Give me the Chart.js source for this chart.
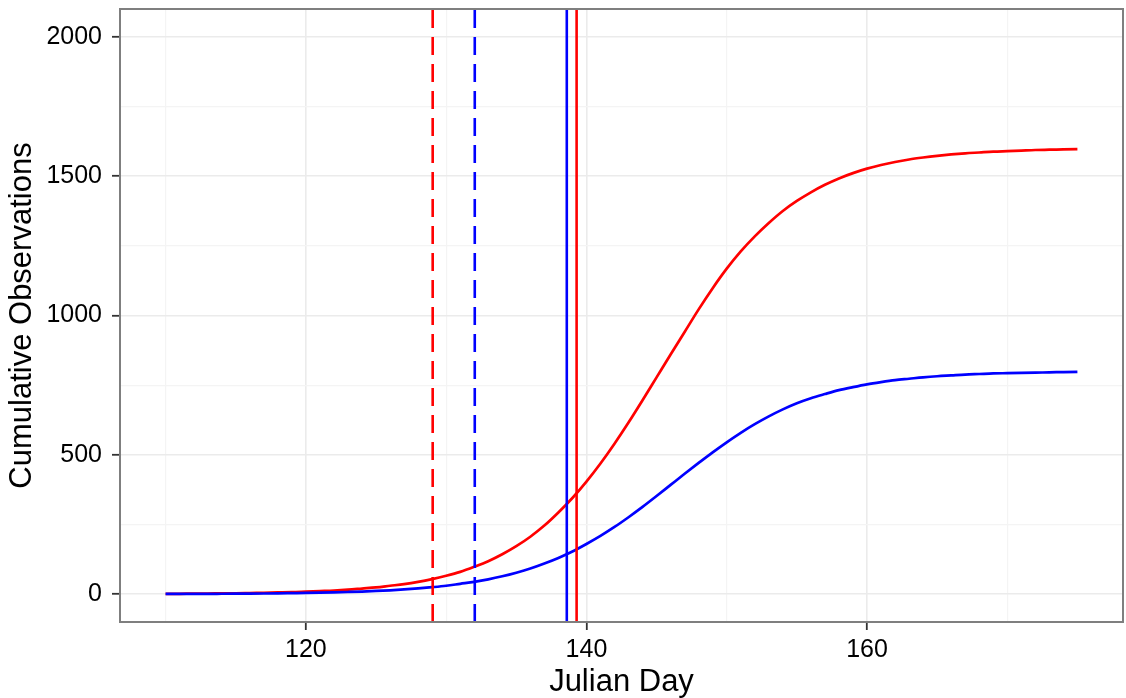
<!DOCTYPE html>
<html>
<head>
<meta charset="utf-8">
<script src="https://cdn.jsdelivr.net/npm/chart.js@4"></script>
<style>
  html, body { margin: 0; padding: 0; background: #fff; }
  #wrap { width: 1126px; height: 698px; }
</style>
</head>
<body>
<div id="wrap"><canvas id="cumulativeChart" width="1126" height="698"></canvas></div>
<script>
const julianDays = [110, 111, 112, 113, 114, 115, 116, 117, 118, 119,
  120, 121, 122, 123, 124, 125, 126, 127, 128, 129,
  130, 131, 132, 133, 134, 135, 136, 137, 138, 139,
  140, 141, 142, 143, 144, 145, 146, 147, 148, 149,
  150, 151, 152, 153, 154, 155, 156, 157, 158, 159,
  160, 161, 162, 163, 164, 165, 166, 167, 168, 169,
  170, 171, 172, 173, 174, 175];

const redCumulative = [1, 1, 2, 2, 3, 3, 4, 5, 6, 7,
  9, 11, 13, 16, 20, 24, 30, 36, 44, 54,
  66, 80, 98, 118, 143, 172, 206, 246, 293, 345,
  404, 469, 540, 616, 696, 778, 860, 941, 1022, 1098,
  1168, 1230, 1284, 1332, 1375, 1411, 1442, 1469, 1492, 1511,
  1527, 1540, 1551, 1560, 1567, 1573, 1578, 1582, 1585, 1588,
  1590, 1592, 1594, 1595, 1596, 1597];

const blueCumulative = [0.6, 0.7, 0.9, 1, 1.3, 1.6, 1.9, 2.3, 2.8, 3.5,
  4.2, 5.1, 6.3, 7.7, 9.3, 11.4, 13.8, 16.8, 20.5, 24.9,
  30, 37, 44, 53, 64, 77, 92, 110, 130, 153,
  180, 209, 241, 276, 313, 352, 392, 432, 471, 509,
  545, 579, 610, 638, 663, 685, 703, 718, 732, 743,
  753, 761, 768, 773, 778, 782, 785, 788, 790, 792,
  793, 794, 795, 796, 797, 798];

// vertical markers: first = dashed, second = solid
const redMarkers = [129.04, 139.3];
const blueMarkers = [132.04, 138.6];

const xLimits = [106.75, 178.25];
const yLimits = [-100, 2100];
const xTickLabels = [120, 140, 160];
const xMinorBreaks = [110, 130, 150, 170];
const yTickLabels = [0, 500, 1000, 1500, 2000];
const yMinorBreaks = [250, 750, 1250, 1750];

Chart.defaults.font.family = '"Liberation Sans", Arial, Helvetica, sans-serif';
Chart.defaults.color = '#000';

const panelBorder = {
  id: 'panelBorder',
  afterDraw(chart) {
    const { ctx, chartArea: a } = chart;
    ctx.save();
    ctx.strokeStyle = '#7f7f7f';
    ctx.lineWidth = 2;
    ctx.strokeRect(a.left, a.top, a.right - a.left, a.bottom - a.top);
    ctx.restore();
  },
};

function gridFor(majors) {
  const major = c => c.tick && majors.includes(c.tick.value);
  return {
    color: c => (major(c) ? '#ebebeb' : '#f4f4f4'),
    lineWidth: c => (major(c) ? 1.6 : 1.2),
    tickColor: c => (major(c) ? '#333333' : 'rgba(0,0,0,0)'),
    tickWidth: 1.8,
    tickLength: 8,
  };
}

function markerLine(day, color, dashed) {
  return {
    data: [{ x: day, y: yLimits[0] }, { x: day, y: yLimits[1] }],
    borderColor: color,
    borderWidth: 2.6,
    borderDash: dashed ? [18, 9] : [],
    pointRadius: 0,
    order: 0,
  };
}

function curve(values, color) {
  return {
    data: julianDays.map((d, i) => ({ x: d, y: values[i] })),
    borderColor: color,
    borderWidth: 2.7,
    pointRadius: 0,
    cubicInterpolationMode: 'monotone',
    order: 1,
  };
}

const cumulativeChart = document.getElementById('cumulativeChart');

new Chart(cumulativeChart, {
  type: 'line',
  data: {
    datasets: [
      markerLine(redMarkers[0], '#ff0000', true),
      markerLine(blueMarkers[0], '#0000ff', true),
      markerLine(blueMarkers[1], '#0000ff', false),
      markerLine(redMarkers[1], '#ff0000', false),
      curve(blueCumulative, '#0000ff'),
      curve(redCumulative, '#ff0000'),
    ],
  },
  options: {
    responsive: false,
    animation: false,
    events: [],
    layout: { padding: { top: 9, right: 3, bottom: 0, left: 0 } },
    plugins: {
      legend: { display: false },
      tooltip: { enabled: false },
    },
    scales: {
      x: {
        type: 'linear',
        min: xLimits[0],
        max: xLimits[1],
        afterBuildTicks: s => {
          s.ticks = xTickLabels.concat(xMinorBreaks).sort((a, b) => a - b).map(v => ({ value: v }));
        },
        afterFit: s => {
          s.paddingLeft = 0;
          s.paddingRight = 0;
          s.height = 76;
        },
        ticks: {
          autoSkip: false,
          maxRotation: 0,
          padding: 5,
          font: { size: 25 },
          color: '#000',
          callback: v => (xTickLabels.includes(v) ? String(v) : ''),
        },
        grid: gridFor(xTickLabels),
        border: { display: false },
        title: {
          display: true,
          text: 'Julian Day',
          color: '#000',
          font: { size: 31, lineHeight: 1 },
          padding: { top: 2, bottom: 0 },
        },
      },
      y: {
        type: 'linear',
        min: yLimits[0],
        max: yLimits[1],
        afterBuildTicks: s => {
          s.ticks = yTickLabels.concat(yMinorBreaks).sort((a, b) => a - b).map(v => ({ value: v }));
        },
        afterFit: s => {
          s.width = 120;
          s.paddingTop = 0;
          s.paddingBottom = 0;
        },
        ticks: {
          autoSkip: false,
          padding: 10,
          font: { size: 25 },
          color: '#000',
          callback: v => (yTickLabels.includes(v) ? String(v) : ''),
        },
        grid: gridFor(yTickLabels),
        border: { display: false },
        title: {
          display: true,
          text: 'Cumulative Observations',
          color: '#000',
          font: { size: 31 },
          padding: { top: 4, bottom: 5 },
        },
      },
    },
  },
  plugins: [panelBorder],
});
</script>
</body>
</html>
